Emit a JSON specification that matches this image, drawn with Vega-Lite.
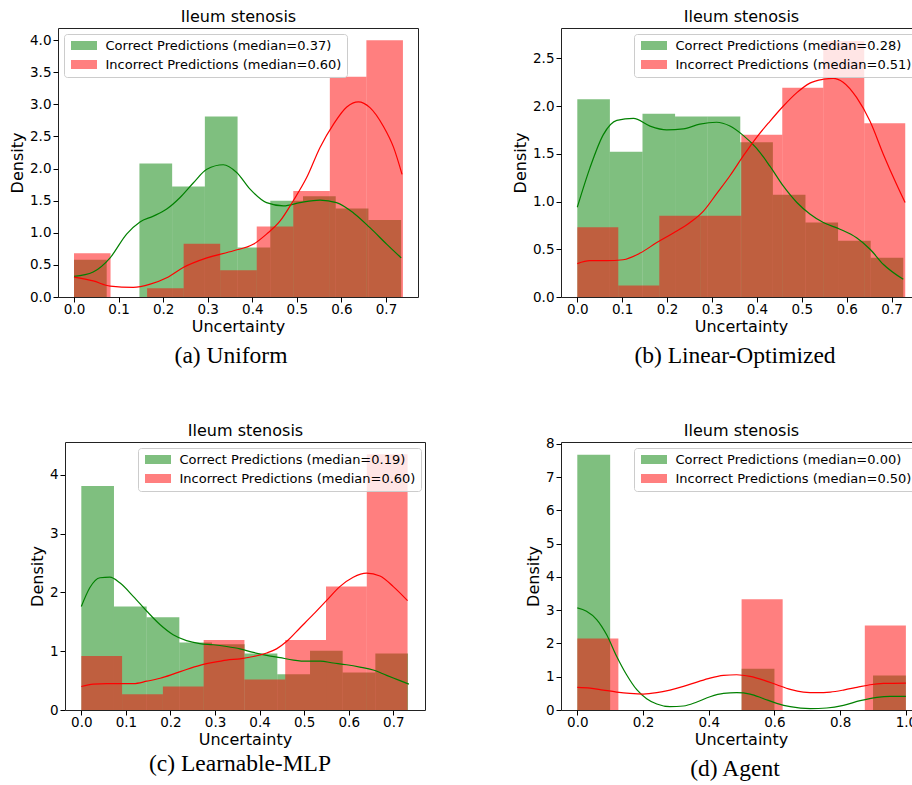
{
  "$schema": "https://vega.github.io/schema/vega-lite/v6.json",
  "padding": {"left": 9, "top": 7, "right": 0, "bottom": 0},
  "spacing": 53,
  "config": {
    "font": "DejaVu Sans",
    "view": {"stroke": "#222222", "strokeWidth": 1},
    "axis": {"grid": false, "domain": false, "domainColor": "#222222", "domainWidth": 1, "labelFont": "DejaVu Sans", "labelFontSize": 13.5, "labelColor": "black", "titleFont": "DejaVu Sans", "titleFontSize": 16, "titleFontWeight": "normal", "titleColor": "black", "tickColor": "black", "tickSize": 5, "tickWidth": 1, "labelPadding": 2, "labelFlush": false},
    "axisX": {"titlePadding": 2.5, "labelPadding": 0},
    "axisY": {"titlePadding": 4},
    "legend": {"labelFont": "DejaVu Sans", "labelFontSize": 13, "labelColor": "black", "padding": 5, "rowPadding": 5, "strokeColor": "#cccccc", "fillColor": "rgba(255,255,255,0.8)", "cornerRadius": 3, "labelOffset": 15, "symbolOffset": 8.5, "symbolType": "M-2.889,-1H2.889V1H-2.889Z", "symbolSize": 81, "symbolOpacity": 0.5, "symbolStrokeWidth": 0, "labelLimit": 400},
    "title": {"font": "Liberation Serif", "fontSize": 23.5, "fontWeight": "normal", "color": "black"}
  },
  "datasets": {
    "hist": [
      {"p":"a","g":"c","x0":0,"x1":0.0734,"d":0.58,"label":"Correct Predictions (median=0.37)"},
      {"p":"a","g":"c","x0":0.1468,"x1":0.2202,"d":2.08,"label":"Correct Predictions (median=0.37)"},
      {"p":"a","g":"c","x0":0.2202,"x1":0.2936,"d":1.72,"label":"Correct Predictions (median=0.37)"},
      {"p":"a","g":"c","x0":0.2936,"x1":0.367,"d":2.81,"label":"Correct Predictions (median=0.37)"},
      {"p":"a","g":"c","x0":0.367,"x1":0.4404,"d":0.77,"label":"Correct Predictions (median=0.37)"},
      {"p":"a","g":"c","x0":0.4404,"x1":0.5138,"d":1.5,"label":"Correct Predictions (median=0.37)"},
      {"p":"a","g":"c","x0":0.5138,"x1":0.5872,"d":1.57,"label":"Correct Predictions (median=0.37)"},
      {"p":"a","g":"c","x0":0.5872,"x1":0.6606,"d":1.38,"label":"Correct Predictions (median=0.37)"},
      {"p":"a","g":"c","x0":0.6606,"x1":0.734,"d":1.2,"label":"Correct Predictions (median=0.37)"},
      {"p":"a","g":"i","x0":0,"x1":0.082,"d":0.68,"label":"Incorrect Predictions (median=0.60)"},
      {"p":"a","g":"i","x0":0.164,"x1":0.246,"d":0.135,"label":"Incorrect Predictions (median=0.60)"},
      {"p":"a","g":"i","x0":0.246,"x1":0.328,"d":0.83,"label":"Incorrect Predictions (median=0.60)"},
      {"p":"a","g":"i","x0":0.328,"x1":0.41,"d":0.415,"label":"Incorrect Predictions (median=0.60)"},
      {"p":"a","g":"i","x0":0.41,"x1":0.492,"d":1.1,"label":"Incorrect Predictions (median=0.60)"},
      {"p":"a","g":"i","x0":0.492,"x1":0.574,"d":1.65,"label":"Incorrect Predictions (median=0.60)"},
      {"p":"a","g":"i","x0":0.574,"x1":0.656,"d":3.43,"label":"Incorrect Predictions (median=0.60)"},
      {"p":"a","g":"i","x0":0.656,"x1":0.738,"d":4.0,"label":"Incorrect Predictions (median=0.60)"},
      {"p":"b","g":"c","x0":0,"x1":0.0726,"d":2.07,"label":"Correct Predictions (median=0.28)"},
      {"p":"b","g":"c","x0":0.0726,"x1":0.1452,"d":1.52,"label":"Correct Predictions (median=0.28)"},
      {"p":"b","g":"c","x0":0.1452,"x1":0.2178,"d":1.92,"label":"Correct Predictions (median=0.28)"},
      {"p":"b","g":"c","x0":0.2178,"x1":0.2904,"d":1.89,"label":"Correct Predictions (median=0.28)"},
      {"p":"b","g":"c","x0":0.2904,"x1":0.363,"d":1.89,"label":"Correct Predictions (median=0.28)"},
      {"p":"b","g":"c","x0":0.363,"x1":0.4356,"d":1.62,"label":"Correct Predictions (median=0.28)"},
      {"p":"b","g":"c","x0":0.4356,"x1":0.5082,"d":1.07,"label":"Correct Predictions (median=0.28)"},
      {"p":"b","g":"c","x0":0.5082,"x1":0.5808,"d":0.78,"label":"Correct Predictions (median=0.28)"},
      {"p":"b","g":"c","x0":0.5808,"x1":0.6534,"d":0.59,"label":"Correct Predictions (median=0.28)"},
      {"p":"b","g":"c","x0":0.6534,"x1":0.726,"d":0.41,"label":"Correct Predictions (median=0.28)"},
      {"p":"b","g":"i","x0":0,"x1":0.0913,"d":0.73,"label":"Incorrect Predictions (median=0.51)"},
      {"p":"b","g":"i","x0":0.0913,"x1":0.1826,"d":0.12,"label":"Incorrect Predictions (median=0.51)"},
      {"p":"b","g":"i","x0":0.1826,"x1":0.2739,"d":0.85,"label":"Incorrect Predictions (median=0.51)"},
      {"p":"b","g":"i","x0":0.2739,"x1":0.3652,"d":0.85,"label":"Incorrect Predictions (median=0.51)"},
      {"p":"b","g":"i","x0":0.3652,"x1":0.4565,"d":1.7,"label":"Incorrect Predictions (median=0.51)"},
      {"p":"b","g":"i","x0":0.4565,"x1":0.5478,"d":2.19,"label":"Incorrect Predictions (median=0.51)"},
      {"p":"b","g":"i","x0":0.5478,"x1":0.6391,"d":2.68,"label":"Incorrect Predictions (median=0.51)"},
      {"p":"b","g":"i","x0":0.6391,"x1":0.7304,"d":1.82,"label":"Incorrect Predictions (median=0.51)"},
      {"p":"c","g":"c","x0":0,"x1":0.0733,"d":3.81,"label":"Correct Predictions (median=0.19)"},
      {"p":"c","g":"c","x0":0.0733,"x1":0.1466,"d":1.76,"label":"Correct Predictions (median=0.19)"},
      {"p":"c","g":"c","x0":0.1466,"x1":0.2199,"d":1.58,"label":"Correct Predictions (median=0.19)"},
      {"p":"c","g":"c","x0":0.2199,"x1":0.2932,"d":1.15,"label":"Correct Predictions (median=0.19)"},
      {"p":"c","g":"c","x0":0.2932,"x1":0.3665,"d":1.12,"label":"Correct Predictions (median=0.19)"},
      {"p":"c","g":"c","x0":0.3665,"x1":0.4398,"d":0.96,"label":"Correct Predictions (median=0.19)"},
      {"p":"c","g":"c","x0":0.4398,"x1":0.5131,"d":0.61,"label":"Correct Predictions (median=0.19)"},
      {"p":"c","g":"c","x0":0.5131,"x1":0.5864,"d":1.01,"label":"Correct Predictions (median=0.19)"},
      {"p":"c","g":"c","x0":0.5864,"x1":0.6597,"d":0.64,"label":"Correct Predictions (median=0.19)"},
      {"p":"c","g":"c","x0":0.6597,"x1":0.733,"d":0.96,"label":"Correct Predictions (median=0.19)"},
      {"p":"c","g":"i","x0":0,"x1":0.0915,"d":0.92,"label":"Incorrect Predictions (median=0.60)"},
      {"p":"c","g":"i","x0":0.0915,"x1":0.183,"d":0.27,"label":"Incorrect Predictions (median=0.60)"},
      {"p":"c","g":"i","x0":0.183,"x1":0.2745,"d":0.4,"label":"Incorrect Predictions (median=0.60)"},
      {"p":"c","g":"i","x0":0.2745,"x1":0.366,"d":1.19,"label":"Incorrect Predictions (median=0.60)"},
      {"p":"c","g":"i","x0":0.366,"x1":0.4575,"d":0.52,"label":"Incorrect Predictions (median=0.60)"},
      {"p":"c","g":"i","x0":0.4575,"x1":0.549,"d":1.19,"label":"Incorrect Predictions (median=0.60)"},
      {"p":"c","g":"i","x0":0.549,"x1":0.6405,"d":2.1,"label":"Incorrect Predictions (median=0.60)"},
      {"p":"c","g":"i","x0":0.6405,"x1":0.732,"d":4.35,"label":"Incorrect Predictions (median=0.60)"},
      {"p":"d","g":"c","x0":0,"x1":0.1,"d":7.68,"label":"Correct Predictions (median=0.00)"},
      {"p":"d","g":"c","x0":0.5,"x1":0.6,"d":1.24,"label":"Correct Predictions (median=0.00)"},
      {"p":"d","g":"c","x0":0.9,"x1":1.0,"d":1.04,"label":"Correct Predictions (median=0.00)"},
      {"p":"d","g":"i","x0":0,"x1":0.125,"d":2.15,"label":"Incorrect Predictions (median=0.50)"},
      {"p":"d","g":"i","x0":0.5,"x1":0.625,"d":3.33,"label":"Incorrect Predictions (median=0.50)"},
      {"p":"d","g":"i","x0":0.875,"x1":1.0,"d":2.54,"label":"Incorrect Predictions (median=0.50)"}
    ],
    "kde": [
      {"p":"a","g":"c","x":0,"d":0.32},{"p":"a","g":"c","x":0.043,"d":0.39},{"p":"a","g":"c","x":0.081,"d":0.61},{"p":"a","g":"c","x":0.118,"d":0.98},{"p":"a","g":"c","x":0.148,"d":1.17},{"p":"a","g":"c","x":0.178,"d":1.26},{"p":"a","g":"c","x":0.208,"d":1.37},{"p":"a","g":"c","x":0.238,"d":1.55},{"p":"a","g":"c","x":0.268,"d":1.78},{"p":"a","g":"c","x":0.298,"d":1.99},{"p":"a","g":"c","x":0.335,"d":2.06},{"p":"a","g":"c","x":0.365,"d":1.94},{"p":"a","g":"c","x":0.395,"d":1.68},{"p":"a","g":"c","x":0.432,"d":1.47},{"p":"a","g":"c","x":0.47,"d":1.42},{"p":"a","g":"c","x":0.507,"d":1.47},{"p":"a","g":"c","x":0.552,"d":1.51},{"p":"a","g":"c","x":0.589,"d":1.47},{"p":"a","g":"c","x":0.627,"d":1.31},{"p":"a","g":"c","x":0.664,"d":1.08},{"p":"a","g":"c","x":0.702,"d":0.82},{"p":"a","g":"c","x":0.734,"d":0.61},
      {"p":"a","g":"i","x":0,"d":0.31},{"p":"a","g":"i","x":0.043,"d":0.25},{"p":"a","g":"i","x":0.081,"d":0.17},{"p":"a","g":"i","x":0.133,"d":0.15},{"p":"a","g":"i","x":0.171,"d":0.2},{"p":"a","g":"i","x":0.208,"d":0.3},{"p":"a","g":"i","x":0.245,"d":0.46},{"p":"a","g":"i","x":0.298,"d":0.61},{"p":"a","g":"i","x":0.358,"d":0.72},{"p":"a","g":"i","x":0.402,"d":0.82},{"p":"a","g":"i","x":0.432,"d":0.98},{"p":"a","g":"i","x":0.462,"d":1.18},{"p":"a","g":"i","x":0.492,"d":1.5},{"p":"a","g":"i","x":0.522,"d":1.86},{"p":"a","g":"i","x":0.552,"d":2.33},{"p":"a","g":"i","x":0.582,"d":2.69},{"p":"a","g":"i","x":0.612,"d":2.96},{"p":"a","g":"i","x":0.638,"d":3.04},{"p":"a","g":"i","x":0.664,"d":2.95},{"p":"a","g":"i","x":0.694,"d":2.66},{"p":"a","g":"i","x":0.717,"d":2.33},{"p":"a","g":"i","x":0.736,"d":1.91},
      {"p":"b","g":"c","x":0,"d":0.94},{"p":"b","g":"c","x":0.028,"d":1.35},{"p":"b","g":"c","x":0.058,"d":1.7},{"p":"b","g":"c","x":0.088,"d":1.85},{"p":"b","g":"c","x":0.125,"d":1.87},{"p":"b","g":"c","x":0.162,"d":1.79},{"p":"b","g":"c","x":0.199,"d":1.75},{"p":"b","g":"c","x":0.236,"d":1.76},{"p":"b","g":"c","x":0.273,"d":1.81},{"p":"b","g":"c","x":0.31,"d":1.83},{"p":"b","g":"c","x":0.34,"d":1.79},{"p":"b","g":"c","x":0.37,"d":1.69},{"p":"b","g":"c","x":0.399,"d":1.56},{"p":"b","g":"c","x":0.429,"d":1.37},{"p":"b","g":"c","x":0.459,"d":1.16},{"p":"b","g":"c","x":0.489,"d":0.99},{"p":"b","g":"c","x":0.518,"d":0.87},{"p":"b","g":"c","x":0.548,"d":0.78},{"p":"b","g":"c","x":0.585,"d":0.71},{"p":"b","g":"c","x":0.622,"d":0.62},{"p":"b","g":"c","x":0.652,"d":0.5},{"p":"b","g":"c","x":0.682,"d":0.34},{"p":"b","g":"c","x":0.726,"d":0.185},
      {"p":"b","g":"i","x":0,"d":0.35},{"p":"b","g":"i","x":0.028,"d":0.38},{"p":"b","g":"i","x":0.065,"d":0.38},{"p":"b","g":"i","x":0.102,"d":0.39},{"p":"b","g":"i","x":0.14,"d":0.46},{"p":"b","g":"i","x":0.177,"d":0.57},{"p":"b","g":"i","x":0.214,"d":0.67},{"p":"b","g":"i","x":0.251,"d":0.78},{"p":"b","g":"i","x":0.281,"d":0.9},{"p":"b","g":"i","x":0.31,"d":1.08},{"p":"b","g":"i","x":0.34,"d":1.27},{"p":"b","g":"i","x":0.37,"d":1.48},{"p":"b","g":"i","x":0.399,"d":1.67},{"p":"b","g":"i","x":0.429,"d":1.84},{"p":"b","g":"i","x":0.459,"d":2.0},{"p":"b","g":"i","x":0.489,"d":2.14},{"p":"b","g":"i","x":0.518,"d":2.24},{"p":"b","g":"i","x":0.548,"d":2.28},{"p":"b","g":"i","x":0.57,"d":2.29},{"p":"b","g":"i","x":0.592,"d":2.25},{"p":"b","g":"i","x":0.622,"d":2.09},{"p":"b","g":"i","x":0.652,"d":1.84},{"p":"b","g":"i","x":0.682,"d":1.49},{"p":"b","g":"i","x":0.711,"d":1.18},{"p":"b","g":"i","x":0.73,"d":0.99},
      {"p":"c","g":"c","x":0,"d":1.76},{"p":"c","g":"c","x":0.019,"d":2.08},{"p":"c","g":"c","x":0.042,"d":2.25},{"p":"c","g":"c","x":0.064,"d":2.26},{"p":"c","g":"c","x":0.087,"d":2.16},{"p":"c","g":"c","x":0.117,"d":1.93},{"p":"c","g":"c","x":0.147,"d":1.68},{"p":"c","g":"c","x":0.177,"d":1.45},{"p":"c","g":"c","x":0.206,"d":1.28},{"p":"c","g":"c","x":0.236,"d":1.18},{"p":"c","g":"c","x":0.266,"d":1.13},{"p":"c","g":"c","x":0.296,"d":1.11},{"p":"c","g":"c","x":0.326,"d":1.08},{"p":"c","g":"c","x":0.356,"d":1.04},{"p":"c","g":"c","x":0.386,"d":0.98},{"p":"c","g":"c","x":0.416,"d":0.93},{"p":"c","g":"c","x":0.446,"d":0.89},{"p":"c","g":"c","x":0.476,"d":0.85},{"p":"c","g":"c","x":0.506,"d":0.83},{"p":"c","g":"c","x":0.536,"d":0.83},{"p":"c","g":"c","x":0.565,"d":0.8},{"p":"c","g":"c","x":0.595,"d":0.77},{"p":"c","g":"c","x":0.625,"d":0.73},{"p":"c","g":"c","x":0.655,"d":0.68},{"p":"c","g":"c","x":0.685,"d":0.59},{"p":"c","g":"c","x":0.715,"d":0.5},{"p":"c","g":"c","x":0.735,"d":0.44},
      {"p":"c","g":"i","x":0,"d":0.4},{"p":"c","g":"i","x":0.027,"d":0.44},{"p":"c","g":"i","x":0.057,"d":0.45},{"p":"c","g":"i","x":0.087,"d":0.45},{"p":"c","g":"i","x":0.117,"d":0.45},{"p":"c","g":"i","x":0.147,"d":0.49},{"p":"c","g":"i","x":0.177,"d":0.54},{"p":"c","g":"i","x":0.206,"d":0.61},{"p":"c","g":"i","x":0.236,"d":0.69},{"p":"c","g":"i","x":0.266,"d":0.76},{"p":"c","g":"i","x":0.296,"d":0.81},{"p":"c","g":"i","x":0.326,"d":0.85},{"p":"c","g":"i","x":0.356,"d":0.87},{"p":"c","g":"i","x":0.386,"d":0.91},{"p":"c","g":"i","x":0.416,"d":0.97},{"p":"c","g":"i","x":0.438,"d":1.04},{"p":"c","g":"i","x":0.461,"d":1.17},{"p":"c","g":"i","x":0.491,"d":1.4},{"p":"c","g":"i","x":0.521,"d":1.63},{"p":"c","g":"i","x":0.551,"d":1.87},{"p":"c","g":"i","x":0.58,"d":2.1},{"p":"c","g":"i","x":0.61,"d":2.26},{"p":"c","g":"i","x":0.64,"d":2.33},{"p":"c","g":"i","x":0.67,"d":2.28},{"p":"c","g":"i","x":0.7,"d":2.1},{"p":"c","g":"i","x":0.732,"d":1.86},
      {"p":"d","g":"c","x":0,"d":3.07},{"p":"d","g":"c","x":0.028,"d":2.97},{"p":"d","g":"c","x":0.059,"d":2.72},{"p":"d","g":"c","x":0.089,"d":2.27},{"p":"d","g":"c","x":0.12,"d":1.61},{"p":"d","g":"c","x":0.15,"d":1.06},{"p":"d","g":"c","x":0.181,"d":0.61},{"p":"d","g":"c","x":0.211,"d":0.34},{"p":"d","g":"c","x":0.242,"d":0.18},{"p":"d","g":"c","x":0.282,"d":0.1},{"p":"d","g":"c","x":0.323,"d":0.12},{"p":"d","g":"c","x":0.364,"d":0.24},{"p":"d","g":"c","x":0.404,"d":0.4},{"p":"d","g":"c","x":0.445,"d":0.5},{"p":"d","g":"c","x":0.485,"d":0.52},{"p":"d","g":"c","x":0.526,"d":0.48},{"p":"d","g":"c","x":0.567,"d":0.34},{"p":"d","g":"c","x":0.607,"d":0.2},{"p":"d","g":"c","x":0.648,"d":0.1},{"p":"d","g":"c","x":0.709,"d":0.04},{"p":"d","g":"c","x":0.759,"d":0.06},{"p":"d","g":"c","x":0.81,"d":0.14},{"p":"d","g":"c","x":0.861,"d":0.28},{"p":"d","g":"c","x":0.912,"d":0.38},{"p":"d","g":"c","x":0.952,"d":0.41},{"p":"d","g":"c","x":1.0,"d":0.41},
      {"p":"d","g":"i","x":0,"d":0.68},{"p":"d","g":"i","x":0.039,"d":0.66},{"p":"d","g":"i","x":0.079,"d":0.6},{"p":"d","g":"i","x":0.12,"d":0.54},{"p":"d","g":"i","x":0.16,"d":0.5},{"p":"d","g":"i","x":0.201,"d":0.48},{"p":"d","g":"i","x":0.242,"d":0.52},{"p":"d","g":"i","x":0.282,"d":0.6},{"p":"d","g":"i","x":0.323,"d":0.71},{"p":"d","g":"i","x":0.364,"d":0.84},{"p":"d","g":"i","x":0.404,"d":0.96},{"p":"d","g":"i","x":0.445,"d":1.04},{"p":"d","g":"i","x":0.485,"d":1.06},{"p":"d","g":"i","x":0.526,"d":1.01},{"p":"d","g":"i","x":0.567,"d":0.9},{"p":"d","g":"i","x":0.607,"d":0.76},{"p":"d","g":"i","x":0.648,"d":0.62},{"p":"d","g":"i","x":0.688,"d":0.54},{"p":"d","g":"i","x":0.729,"d":0.52},{"p":"d","g":"i","x":0.77,"d":0.54},{"p":"d","g":"i","x":0.81,"d":0.6},{"p":"d","g":"i","x":0.851,"d":0.68},{"p":"d","g":"i","x":0.891,"d":0.76},{"p":"d","g":"i","x":0.932,"d":0.8},{"p":"d","g":"i","x":1.0,"d":0.81}
    ]
  },
  "resolve": {"scale": {"color": "independent"}},
  "vconcat": [
    {
      "spacing": 93,
      "resolve": {"scale": {"color": "independent"}},
      "hconcat": [
        {
          "width": 360, "height": 269,
          "title": {"text": "(a) Uniform", "orient": "bottom", "frame": "group", "anchor": "middle", "dx": -7, "offset": 10, "baseline": "top"},
          "resolve": {"axis": {"x": "independent"}},
          "layer": [
            {"data": {"name": "hist"}, "transform": [{"filter": "datum.p == 'a' && datum.g == 'c'"}],
             "mark": {"type": "rect", "fillOpacity": 0.5},
             "encoding": {
               "x": {"field": "x0", "type": "quantitative", "scale": {"domain": [-0.0359, 0.7718], "nice": false, "zero": false}, "axis": {"orient": "bottom", "values": [0, 0.1, 0.2, 0.3, 0.4, 0.5, 0.6, 0.7], "format": ".1f", "title": "Uncertainty"}},
               "x2": {"field": "x1"},
               "y": {"field": "d", "type": "quantitative", "title": "Density", "scale": {"domain": [0, 4.19], "nice": false}, "axis": {"values": [0, 0.5, 1, 1.5, 2, 2.5, 3, 3.5, 4], "format": ".1f"}},
               "y2": {"datum": 0},
               "color": {"field": "label", "type": "nominal", "scale": {"domain": ["Correct Predictions (median=0.37)", "Incorrect Predictions (median=0.60)"], "range": ["#008000", "#ff0000"]}, "legend": {"orient": "none", "legendX": 6, "legendY": 6, "title": null}}
             }},
            {"data": {"name": "hist"}, "transform": [{"filter": "datum.p == 'a' && datum.g == 'i'"}],
             "mark": {"type": "rect", "fillOpacity": 0.5},
             "encoding": {
               "x": {"field": "x0", "type": "quantitative", "axis": null},
               "x2": {"field": "x1"},
               "y": {"field": "d", "type": "quantitative", "title": "Density", "axis": {"values": [0, 0.5, 1, 1.5, 2, 2.5, 3, 3.5, 4], "format": ".1f"}},
               "y2": {"datum": 0},
               "color": {"field": "label", "type": "nominal"}
             }},
            {"data": {"name": "kde"}, "transform": [{"filter": "datum.p == 'a' && datum.g == 'c'"}],
             "mark": {"type": "line", "color": "#008000", "strokeWidth": 1.2, "interpolate": "monotone"},
             "encoding": {
               "x": {"field": "x", "type": "quantitative", "axis": {"orient": "top", "title": "Ileum stenosis", "labels": false, "ticks": false, "domain": false, "titlePadding": 4}},
               "y": {"field": "d", "type": "quantitative", "title": "Density", "axis": {"values": [0, 0.5, 1, 1.5, 2, 2.5, 3, 3.5, 4], "format": ".1f"}}
             }},
            {"data": {"name": "kde"}, "transform": [{"filter": "datum.p == 'a' && datum.g == 'i'"}],
             "mark": {"type": "line", "color": "#ff0000", "strokeWidth": 1.2, "interpolate": "monotone"},
             "encoding": {
               "x": {"field": "x", "type": "quantitative", "axis": null},
               "y": {"field": "d", "type": "quantitative", "title": "Density", "axis": {"values": [0, 0.5, 1, 1.5, 2, 2.5, 3, 3.5, 4], "format": ".1f"}}
             }}
          ]
        },
        {
          "width": 360, "height": 269,
          "title": {"text": "(b) Linear-Optimized", "orient": "bottom", "frame": "group", "anchor": "middle", "dx": -6, "offset": 10, "baseline": "top"},
          "resolve": {"axis": {"x": "independent"}},
          "layer": [
            {"data": {"name": "hist"}, "transform": [{"filter": "datum.p == 'b' && datum.g == 'c'"}],
             "mark": {"type": "rect", "fillOpacity": 0.5},
             "encoding": {
               "x": {"field": "x0", "type": "quantitative", "scale": {"domain": [-0.0363, 0.7655], "nice": false, "zero": false}, "axis": {"orient": "bottom", "values": [0, 0.1, 0.2, 0.3, 0.4, 0.5, 0.6, 0.7], "format": ".1f", "title": "Uncertainty"}},
               "x2": {"field": "x1"},
               "y": {"field": "d", "type": "quantitative", "title": "Density", "scale": {"domain": [0, 2.817], "nice": false}, "axis": {"values": [0, 0.5, 1, 1.5, 2, 2.5], "format": ".1f"}},
               "y2": {"datum": 0},
               "color": {"field": "label", "type": "nominal", "scale": {"domain": ["Correct Predictions (median=0.28)", "Incorrect Predictions (median=0.51)"], "range": ["#008000", "#ff0000"]}, "legend": {"orient": "none", "legendX": 73, "legendY": 6, "title": null}}
             }},
            {"data": {"name": "hist"}, "transform": [{"filter": "datum.p == 'b' && datum.g == 'i'"}],
             "mark": {"type": "rect", "fillOpacity": 0.5},
             "encoding": {
               "x": {"field": "x0", "type": "quantitative", "axis": null},
               "x2": {"field": "x1"},
               "y": {"field": "d", "type": "quantitative", "title": "Density", "axis": {"values": [0, 0.5, 1, 1.5, 2, 2.5], "format": ".1f"}},
               "y2": {"datum": 0},
               "color": {"field": "label", "type": "nominal"}
             }},
            {"data": {"name": "kde"}, "transform": [{"filter": "datum.p == 'b' && datum.g == 'c'"}],
             "mark": {"type": "line", "color": "#008000", "strokeWidth": 1.2, "interpolate": "monotone"},
             "encoding": {
               "x": {"field": "x", "type": "quantitative", "axis": {"orient": "top", "title": "Ileum stenosis", "labels": false, "ticks": false, "domain": false, "titlePadding": 4}},
               "y": {"field": "d", "type": "quantitative", "title": "Density", "axis": {"values": [0, 0.5, 1, 1.5, 2, 2.5], "format": ".1f"}}
             }},
            {"data": {"name": "kde"}, "transform": [{"filter": "datum.p == 'b' && datum.g == 'i'"}],
             "mark": {"type": "line", "color": "#ff0000", "strokeWidth": 1.2, "interpolate": "monotone"},
             "encoding": {
               "x": {"field": "x", "type": "quantitative", "axis": null},
               "y": {"field": "d", "type": "quantitative", "title": "Density", "axis": {"values": [0, 0.5, 1, 1.5, 2, 2.5], "format": ".1f"}}
             }}
          ]
        }
      ]
    },
    {
      "spacing": 99,
      "resolve": {"scale": {"color": "independent"}},
      "hconcat": [
        {
          "width": 367, "height": 268,
          "view": {"stroke": null},
          "title": {"text": "(c) Learnable-MLP", "orient": "bottom", "frame": "group", "anchor": "middle", "dx": -1.5, "offset": 5, "baseline": "top"},
          "resolve": {"axis": {"x": "independent", "y": "independent"}},
          "layer": [
            {"data": {"name": "hist"}, "transform": [{"filter": "datum.p == 'c' && datum.g == 'c'"}],
             "mark": {"type": "rect", "fillOpacity": 0.5},
             "encoding": {
               "x": {"field": "x0", "type": "quantitative", "scale": {"domain": [-0.0366, 0.7711], "range": [7, 367], "nice": false, "zero": false}, "axis": {"orient": "bottom", "values": [0, 0.1, 0.2, 0.3, 0.4, 0.5, 0.6, 0.7], "format": ".1f", "title": "Uncertainty", "domain": true}},
               "x2": {"field": "x1"},
               "y": {"field": "d", "type": "quantitative", "title": "Density", "scale": {"domain": [0, 4.56], "nice": false}, "axis": {"values": [0, 1, 2, 3, 4], "format": "d", "offset": -7, "domain": true}},
               "y2": {"datum": 0},
               "color": {"field": "label", "type": "nominal", "scale": {"domain": ["Correct Predictions (median=0.19)", "Incorrect Predictions (median=0.60)"], "range": ["#008000", "#ff0000"]}, "legend": {"orient": "none", "legendX": 80, "legendY": 6, "title": null}}
             }},
            {"data": {"name": "hist"}, "transform": [{"filter": "datum.p == 'c' && datum.g == 'i'"}],
             "mark": {"type": "rect", "fillOpacity": 0.5},
             "encoding": {
               "x": {"field": "x0", "type": "quantitative", "axis": null},
               "x2": {"field": "x1"},
               "y": {"field": "d", "type": "quantitative", "axis": null},
               "y2": {"datum": 0},
               "color": {"field": "label", "type": "nominal"}
             }},
            {"data": {"name": "kde"}, "transform": [{"filter": "datum.p == 'c' && datum.g == 'c'"}],
             "mark": {"type": "line", "color": "#008000", "strokeWidth": 1.2, "interpolate": "monotone"},
             "encoding": {
               "x": {"field": "x", "type": "quantitative", "axis": {"orient": "top", "title": "Ileum stenosis", "labels": false, "ticks": false, "domain": true, "titlePadding": 4}},
               "y": {"field": "d", "type": "quantitative", "axis": null}
             }},
            {"data": {"name": "kde"}, "transform": [{"filter": "datum.p == 'c' && datum.g == 'i'"}],
             "mark": {"type": "line", "color": "#ff0000", "strokeWidth": 1.2, "interpolate": "monotone"},
             "encoding": {
               "x": {"field": "x", "type": "quantitative", "axis": null},
               "y": {"field": "d", "type": "quantitative", "axis": {"orient": "right", "title": null, "labels": false, "ticks": false, "domain": true}}
             }}
          ]
        },
        {
          "width": 360, "height": 268,
          "title": {"text": "(d) Agent", "orient": "bottom", "frame": "group", "anchor": "middle", "dx": -6, "offset": 10, "baseline": "top"},
          "resolve": {"axis": {"x": "independent"}},
          "layer": [
            {"data": {"name": "hist"}, "transform": [{"filter": "datum.p == 'd' && datum.g == 'c'"}],
             "mark": {"type": "rect", "fillOpacity": 0.5},
             "encoding": {
               "x": {"field": "x0", "type": "quantitative", "scale": {"domain": [-0.0496, 1.046], "nice": false, "zero": false}, "axis": {"orient": "bottom", "values": [0, 0.2, 0.4, 0.6, 0.8, 1.0], "format": ".1f", "title": "Uncertainty"}},
               "x2": {"field": "x1"},
               "y": {"field": "d", "type": "quantitative", "title": "Density", "scale": {"domain": [0, 8.06], "nice": false}, "axis": {"values": [0, 1, 2, 3, 4, 5, 6, 7, 8], "format": "d"}},
               "y2": {"datum": 0},
               "color": {"field": "label", "type": "nominal", "scale": {"domain": ["Correct Predictions (median=0.00)", "Incorrect Predictions (median=0.50)"], "range": ["#008000", "#ff0000"]}, "legend": {"orient": "none", "legendX": 73, "legendY": 6, "title": null}}
             }},
            {"data": {"name": "hist"}, "transform": [{"filter": "datum.p == 'd' && datum.g == 'i'"}],
             "mark": {"type": "rect", "fillOpacity": 0.5},
             "encoding": {
               "x": {"field": "x0", "type": "quantitative", "axis": null},
               "x2": {"field": "x1"},
               "y": {"field": "d", "type": "quantitative", "title": "Density", "axis": {"values": [0, 1, 2, 3, 4, 5, 6, 7, 8], "format": "d"}},
               "y2": {"datum": 0},
               "color": {"field": "label", "type": "nominal"}
             }},
            {"data": {"name": "kde"}, "transform": [{"filter": "datum.p == 'd' && datum.g == 'c'"}],
             "mark": {"type": "line", "color": "#008000", "strokeWidth": 1.2, "interpolate": "monotone"},
             "encoding": {
               "x": {"field": "x", "type": "quantitative", "axis": {"orient": "top", "title": "Ileum stenosis", "labels": false, "ticks": false, "domain": false, "titlePadding": 4}},
               "y": {"field": "d", "type": "quantitative", "title": "Density", "axis": {"values": [0, 1, 2, 3, 4, 5, 6, 7, 8], "format": "d"}}
             }},
            {"data": {"name": "kde"}, "transform": [{"filter": "datum.p == 'd' && datum.g == 'i'"}],
             "mark": {"type": "line", "color": "#ff0000", "strokeWidth": 1.2, "interpolate": "monotone"},
             "encoding": {
               "x": {"field": "x", "type": "quantitative", "axis": null},
               "y": {"field": "d", "type": "quantitative", "title": "Density", "axis": {"values": [0, 1, 2, 3, 4, 5, 6, 7, 8], "format": "d"}}
             }}
          ]
        }
      ]
    }
  ]
}
